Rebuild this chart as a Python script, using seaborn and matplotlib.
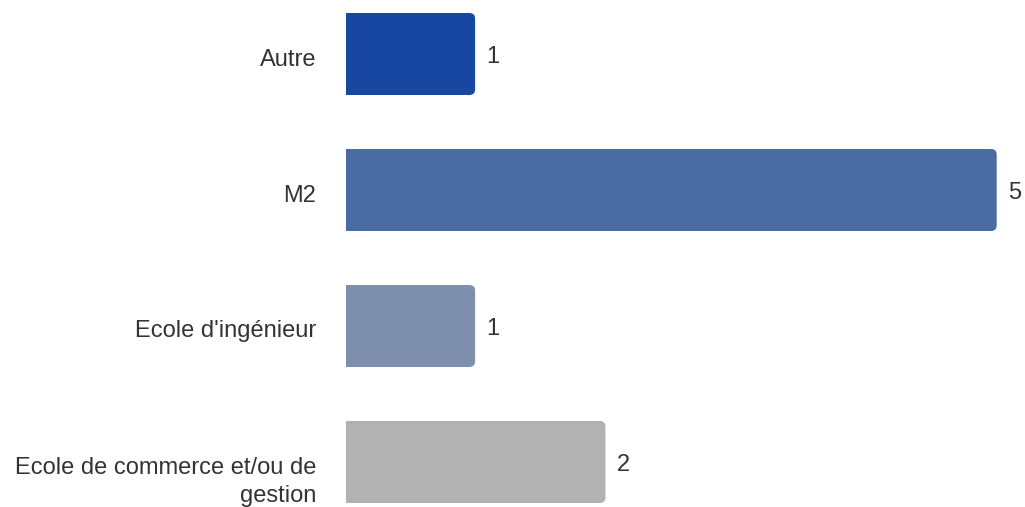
import matplotlib
matplotlib.use('Agg')
import matplotlib.pyplot as plt
import matplotlib.transforms as mtransforms
from matplotlib.patches import FancyBboxPatch
import seaborn as sns
import pandas as pd

categories = ['Autre', 'M2', "Ecole d'ingénieur", 'Ecole de commerce et/ou de\ngestion']
values = [1, 5, 1, 2]
colors = ['#1747a0', '#4a6ca5', '#7f8fae', '#b2b2b2']

sns.set_style('white')
plt.rcParams['font.family'] = ['Liberation Sans', 'DejaVu Sans']

df = pd.DataFrame({'cat': categories, 'val': values})

fig = plt.figure(figsize=(10.25, 5.07), dpi=100)
# axes extends beyond the figure so that the picture is cropped like the reference
ax = fig.add_axes([346 / 1025, -23 / 507, 652 / 1025, 544 / 507])
sns.barplot(data=df, y='cat', x='val', hue='cat', palette=colors, orient='h',
            width=0.6, saturation=1, legend=False, ax=ax)
ax.set_xlim(0, 5)
ax.set_ylim(3.5, -0.5)

down = mtransforms.ScaledTranslation(0, -3 / 100, fig.dpi_scale_trans)

# rounded right corners
rad = 0.04
for p in list(ax.patches):
    x, y, w, h = p.get_x(), p.get_y(), p.get_width(), p.get_height()
    c = p.get_facecolor()
    p.set_width(w - rad)
    p.set_edgecolor('none')
    rb = FancyBboxPatch((x, y), w - 0.01, h,
                        boxstyle='round,pad=0,rounding_size=%s' % rad,
                        mutation_aspect=1.0, facecolor=c, edgecolor='none')
    ax.add_patch(rb)
    ax.text(x + w, y + h / 2, str(int(w)),
            transform=ax.transData + mtransforms.ScaledTranslation(10 / 100, -3 / 100, fig.dpi_scale_trans),
            ha='left', va='center', fontsize=17, color='#333333')

for s in ax.spines.values():
    s.set_visible(False)
ax.set_xticks([])
ax.set_xlabel('')
ax.set_ylabel('')
ax.tick_params(axis='y', length=0, pad=30 * 72 / 100, labelsize=17, labelcolor='#333333')
labels = ax.get_yticklabels()
for lab in labels:
    lab.set_multialignment('right')
    lab.set_linespacing(1.35)
    lab.set_transform(lab.get_transform() + down)
last = labels[-1]
last.set_verticalalignment('top')
last.set_transform(last.get_transform() + mtransforms.ScaledTranslation(0, 8 / 100, fig.dpi_scale_trans))

fig.savefig('out.png', dpi=100)
